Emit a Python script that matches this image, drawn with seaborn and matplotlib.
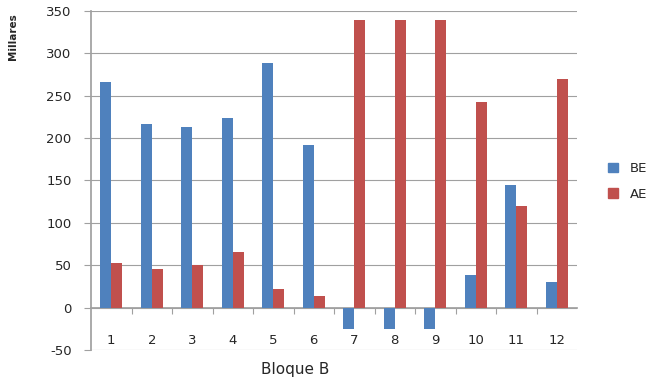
import pandas as pd
import numpy as np
import matplotlib
matplotlib.use('Agg')
import matplotlib.pyplot as plt
import seaborn as sns
from matplotlib.ticker import MultipleLocator, FixedLocator

# Values (Millares)
categories = [str(i) for i in range(1, 13)]
be_values = [266, 217, 213, 224, 289, 192, -25, -25, -25, 38, 144, 30]
ae_values = [52, 46, 50, 66, 22, 14, 339, 339, 339, 242, 120, 270]
series_names = ['BE', 'AE']
colors = ['#4F81BD', '#C0504D']

df = pd.DataFrame({
    'Bloque': categories * 2,
    'Valor': be_values + ae_values,
    'Serie': [series_names[0]] * len(categories) + [series_names[1]] * len(categories),
})

sns.set_theme(style="white")
plt.rcParams['font.family'] = ['DejaVu Sans']

fig = plt.figure(figsize=(6.5, 3.82), dpi=100)
ax = fig.add_axes([0.14, 0.0838, 0.7477, 0.888])

sns.barplot(data=df, x='Bloque', y='Valor', hue='Serie', order=categories,
            hue_order=series_names, palette=colors, width=0.55,
            saturation=1, ax=ax, legend=False, linewidth=0, edgecolor='none',
            zorder=3)

# axis range and grid
ax.set_ylim(-50, 350)
ax.set_xlim(-0.5, len(categories) - 0.5)
ax.yaxis.set_major_locator(MultipleLocator(50))
ax.grid(axis='y', color='#a0a0a0', linewidth=0.8, zorder=0)
ax.set_axisbelow(True)

# category axis crosses at zero, like the spreadsheet chart
for side in ['top', 'right']:
    ax.spines[side].set_visible(False)
ax.spines['left'].set_color('#a0a0a0')
ax.spines['bottom'].set_color('#a0a0a0')
ax.spines['bottom'].set_position(('data', 0))

ax.tick_params(axis='y', length=5, width=0.8, color='#a0a0a0', pad=9,
               labelsize=9.5, left=True)
ax.set_yticks(range(-50, 351, 50))
ax.set_yticklabels([str(v) for v in range(-50, 351, 50)])

ax.xaxis.set_minor_locator(FixedLocator(np.arange(0.5, len(categories) - 0.5, 1)))
ax.tick_params(axis='x', which='major', length=0, pad=19, labelsize=9.5)
ax.tick_params(axis='x', which='minor', length=4, width=0.8, color='#a0a0a0',
               bottom=True, direction='out')

ax.set_xlabel('')
ax.set_ylabel('')
fig.text(0.454, 0.032, 'Bloque B', ha='center', va='center', fontsize=11)
fig.text(0.02, 0.905, 'Millares', rotation=90, ha='center', va='center',
         fontsize=7.5, fontweight='bold')

# legend outside the plot area
handles = [plt.Rectangle((0, 0), 1, 1, color=c) for c in colors]
ax.legend(handles, series_names, frameon=False, loc='center left',
          bbox_to_anchor=(1.04, 0.497), fontsize=9.5, handlelength=0.7,
          handleheight=0.7, labelspacing=0.95, handletextpad=0.9)

plt.savefig('out.png', dpi=100)
plt.close()
